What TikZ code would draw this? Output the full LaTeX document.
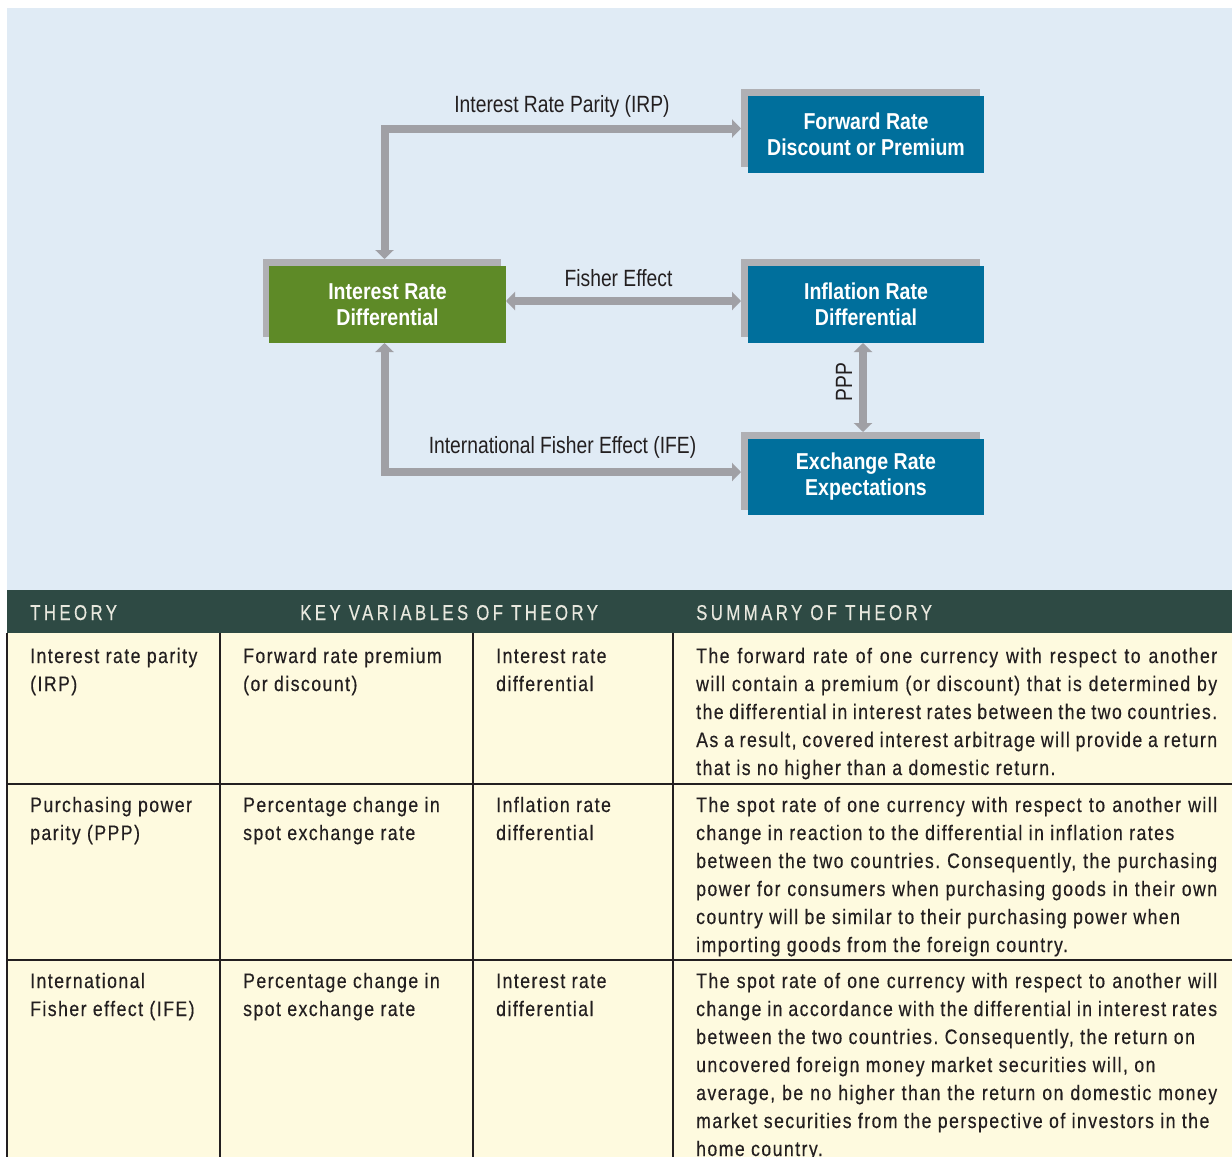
\documentclass[tikz,border=0pt]{standalone}
\usepackage{fontspec}
\setmainfont{Liberation Sans}[FakeStretch=0.85]
\newfontfamily\lblfont{Liberation Sans}[FakeStretch=0.82]
\newfontfamily\tblfont{Liberation Sans}[FakeStretch=0.84,LetterSpace=7,FakeBold=0.4]
\newfontfamily\hdrfont{Liberation Sans}[FakeStretch=0.78,LetterSpace=16,FakeBold=0.4]
\usetikzlibrary{arrows.meta}
\definecolor{bgblue}{RGB}{224,235,245}
\definecolor{hdrgreen}{RGB}{46,74,68}
\definecolor{cream}{RGB}{254,250,223}
\definecolor{boxblue}{RGB}{0,111,156}
\definecolor{boxgreen}{RGB}{94,138,39}
\definecolor{arrowgray}{RGB}{160,160,165}
\definecolor{shadowgray}{RGB}{176,176,180}
\definecolor{txt}{RGB}{35,31,32}
\definecolor{hdrtxt}{RGB}{232,232,222}
\frenchspacing
\newcommand\J[1]{\hbox to 521pt{#1}}
\newcommand\R[1]{\hbox{#1}}
\newcommand\cell[1]{\vtop{\tblfont\fontsize{21}{28}\selectfont\baselineskip=28pt #1}}
\tikzset{
  shadowbox/.style={fill=shadowgray, draw=none, inner sep=0pt, outer sep=0pt, anchor=north west, minimum width=239pt, minimum height=78pt},
  mainbox/.style={draw=none, inner sep=0pt, outer sep=0pt, anchor=north west, minimum width=236pt, minimum height=77pt, align=center, text=white, font=\bfseries\fontsize{23}{26}\selectfont},
  bluebox/.style={mainbox, fill=boxblue},
  greenbox/.style={mainbox, fill=boxgreen},
  arr/.style={draw=arrowgray, line width=8pt, {Triangle[length=9pt,width=18pt]}-{Triangle[length=9pt,width=18pt]}},
  lbl/.style={text=txt, inner sep=0pt, anchor=base, font=\lblfont\fontsize{23.5}{26}\selectfont},
  celltxt/.style={text=txt, inner sep=0pt, anchor=base west},
  hdr/.style={text=hdrtxt, inner sep=0pt, anchor=base west, font=\hdrfont\fontsize{21.5}{26}\selectfont},
  rule/.style={draw=txt, line width=1.5pt}
}
\begin{document}
\begin{tikzpicture}[x=1pt,y=-1pt]
\useasboundingbox (0,0) rectangle (1232,1157);
\fill[white] (0,0) rectangle (1232,1157);
\fill[bgblue] (7,8) rectangle (1232,590);
\fill[hdrgreen] (7,590) rectangle (1232,633);
\fill[cream] (7,633) rectangle (1232,1157);

% shadows
\node[shadowbox] (fwdS) at (741,89) {};
\node[shadowbox, minimum width=238pt] (irdS) at (263,259) {};
\node[shadowbox] (infS) at (741,259) {};
\node[shadowbox] (excS) at (741,432) {};
% boxes
\node[bluebox] (fwd) at (748,96) {Forward Rate\\Discount or Premium};
\node[greenbox, minimum width=237pt] (ird) at (269,266) {Interest Rate\\Differential};
\node[bluebox] (inf) at (748,266) {Inflation Rate\\Differential};
\node[bluebox, minimum height=76pt] (exc) at (748,439) {Exchange Rate\\Expectations};

% connectors
\coordinate (c1) at (384.5,128.5);
\coordinate (c2) at (0,301);
\coordinate (c3) at (863,0);
\coordinate (c4) at (384.5,472);
\draw[arr] (c1 |- irdS.north) -- (c1) -- (c1 -| fwdS.west);
\draw[arr] (ird.east |- c2) -- (infS.west |- c2);
\draw[arr] (c3 |- inf.south) -- (c3 |- excS.north);
\draw[arr] (c4 |- ird.south) -- (c4) -- (c4 -| excS.west);

% labels
\node[lbl] (lirp) at (562,112) {Interest Rate Parity (IRP)};
\node[lbl] (lfe) at (618.5,286) {Fisher Effect};
\node[lbl] (life) at (562.5,453) {International Fisher Effect (IFE)};
\node[lbl, rotate=90] (lppp) at (852,382) {PPP};

% table header
\node[hdr] (h1) at (30,620) {THEORY};
\node[hdr] (h2) at (300,620) {KEY VARIABLES OF THEORY};
\node[hdr] (h3) at (696,620) {SUMMARY OF THEORY};

% table rules
\draw[rule] (7,633) -- (7,1157);
\draw[rule] (220,633) -- (220,1157);
\draw[rule] (473,633) -- (473,1157);
\draw[rule] (673,633) -- (673,1157);
\draw[rule] (7,784) -- (1232,784);
\draw[rule] (7,960) -- (1232,960);

% row 1
\node[celltxt] (r1a) at (30,663) {\cell{\R{Interest rate parity}\R{(IRP)}}};
\node[celltxt] (r1b) at (243,663) {\cell{\R{Forward rate premium}\R{(or discount)}}};
\node[celltxt] (r1c) at (496,663) {\cell{\R{Interest rate}\R{differential}}};
\node[celltxt] (r1d) at (696,663) {\cell{%
\J{The forward rate of one currency with respect to another}%
\J{will contain a premium (or discount) that is determined by}%
\J{the differential in interest rates between the two countries.}%
\J{As a result, covered interest arbitrage will provide a return}%
\R{that is no higher than a domestic return.}}};

% row 2
\node[celltxt] (r2a) at (30,812) {\cell{\R{Purchasing power}\R{parity (PPP)}}};
\node[celltxt] (r2b) at (243,812) {\cell{\R{Percentage change in}\R{spot exchange rate}}};
\node[celltxt] (r2c) at (496,812) {\cell{\R{Inflation rate}\R{differential}}};
\node[celltxt] (r2d) at (696,812) {\cell{%
\J{The spot rate of one currency with respect to another will}%
\R{change in reaction to the differential in inflation rates}%
\J{between the two countries. Consequently, the purchasing}%
\J{power for consumers when purchasing goods in their own}%
\R{country will be similar to their purchasing power when}%
\R{importing goods from the foreign country.}}};

% row 3
\node[celltxt] (r3a) at (30,988) {\cell{\R{International}\R{Fisher effect (IFE)}}};
\node[celltxt] (r3b) at (243,988) {\cell{\R{Percentage change in}\R{spot exchange rate}}};
\node[celltxt] (r3c) at (496,988) {\cell{\R{Interest rate}\R{differential}}};
\node[celltxt] (r3d) at (696,988) {\cell{%
\J{The spot rate of one currency with respect to another will}%
\J{change in accordance with the differential in interest rates}%
\R{between the two countries. Consequently, the return on}%
\R{uncovered foreign money market securities will, on}%
\J{average, be no higher than the return on domestic money}%
\R{market securities from the perspective of investors in the}%
\R{home country.}}};
\end{tikzpicture}
\end{document}
